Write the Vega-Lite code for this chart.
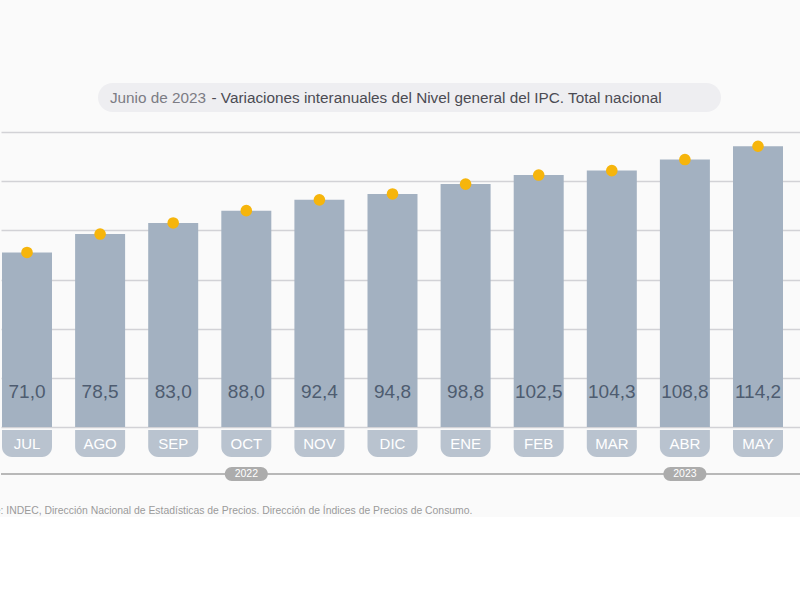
{
  "$schema": "https://vega.github.io/schema/vega-lite/v6.json",
  "background": "#fafafa",
  "padding": {"top": 83, "left": -32, "right": 0, "bottom": 0},
  "config": {
    "view": {"stroke": null},
    "font": "Liberation Sans",
    "locale": {"number": {"decimal": ",", "thousands": ".", "grouping": [3], "currency": ["$", ""]}}
  },
  "datasets": {
    "ipc": [
      {"mes": "JUL", "valor": 71.0},
      {"mes": "AGO", "valor": 78.5},
      {"mes": "SEP", "valor": 83.0},
      {"mes": "OCT", "valor": 88.0},
      {"mes": "NOV", "valor": 92.4},
      {"mes": "DIC", "valor": 94.8},
      {"mes": "ENE", "valor": 98.8},
      {"mes": "FEB", "valor": 102.5},
      {"mes": "MAR", "valor": 104.3},
      {"mes": "ABR", "valor": 108.8},
      {"mes": "MAY", "valor": 114.2}
    ],
    "anios": [
      {"anio": "2022", "mes": "OCT"},
      {"anio": "2023", "mes": "ABR"}
    ]
  },
  "title": {
    "text": "Fuente: INDEC, Dirección Nacional de Estadísticas de Precios. Dirección de Índices de Precios de Consumo.",
    "orient": "bottom",
    "anchor": "start",
    "fontSize": 10.4,
    "fontWeight": "normal",
    "color": "#9b9b9b",
    "dx": -32,
    "offset": 25
  },
  "spacing": 20,
  "vconcat": [
    {
      "spacing": 0,
      "hconcat": [
        {"width": 97, "height": 29, "data": {"values": []}, "mark": "text"},
        {
          "width": 623,
          "height": 29,
          "view": {"fill": "#eeeef1", "cornerRadius": 14.5},
          "data": {"values": [{"a": "Junio de 2023", "b": "- Variaciones interanuales del Nivel general del IPC. Total nacional"}]},
          "layer": [
            {
              "mark": {"type": "text", "align": "right", "baseline": "middle", "dx": -203.5, "fontSize": 15.3, "color": "#7c7c84"},
              "encoding": {"text": {"field": "a"}}
            },
            {
              "mark": {"type": "text", "align": "left", "baseline": "middle", "dx": -198, "fontSize": 15.3, "color": "#4b4b53"},
              "encoding": {"text": {"field": "b"}}
            }
          ]
        }
      ]
    },
    {
      "spacing": 3,
      "vconcat": [
        {
          "width": 800,
          "height": 295,
          "data": {"name": "ipc"},
          "encoding": {
            "x": {
              "field": "mes", "type": "nominal", "sort": null, "axis": null,
              "scale": {"domain": ["JUL","AGO","SEP","OCT","NOV","DIC","ENE","FEB","MAR","ABR","MAY"], "paddingInner": 0.316, "paddingOuter": 0.13, "align": 0.053}
            }
          },
          "layer": [
            {
              "mark": {"type": "bar", "color": "#a3b1c1"},
              "encoding": {
                "y": {
                  "field": "valor", "type": "quantitative",
                  "scale": {"domain": [0, 120], "nice": false},
                  "axis": {"values": [0,10,20,30,40,50,60,70,80,90,100,110,120], "labels": false, "ticks": false, "domain": false, "title": null, "grid": true, "gridColor": "#d2d2d6", "gridWidth": 1.5, "minExtent": 0, "maxExtent": 0}
                }
              }
            },
            {
              "mark": {"type": "circle", "size": 135, "color": "#f6b50c", "opacity": 1},
              "encoding": {"y": {"field": "valor", "type": "quantitative"}}
            },
            {
              "mark": {"type": "text", "fontSize": 19, "color": "#4e5c70", "baseline": "middle", "dy": -35},
              "encoding": {
                "y": {"datum": 0, "type": "quantitative"},
                "text": {"field": "valor", "type": "quantitative", "format": ".1f"}
              }
            }
          ]
        },
        {
          "spacing": 10,
          "vconcat": [
            {
              "width": 800,
              "height": 27,
              "data": {"name": "ipc"},
              "encoding": {
                "x": {
                  "field": "mes", "type": "nominal", "sort": null, "axis": null,
                  "scale": {"domain": ["JUL","AGO","SEP","OCT","NOV","DIC","ENE","FEB","MAR","ABR","MAY"], "paddingInner": 0.316, "paddingOuter": 0.13, "align": 0.053}
                }
              },
              "layer": [
                {"mark": {"type": "bar", "color": "#b9c3cf", "cornerRadiusBottomLeft": 10, "cornerRadiusBottomRight": 10}},
                {"mark": {"type": "text", "color": "#ffffff", "fontSize": 15, "baseline": "middle"}, "encoding": {"text": {"field": "mes"}}}
              ]
            },
            {
              "width": 800,
              "height": 14,
              "data": {"name": "anios"},
              "layer": [
                {
                  "mark": {"type": "rule", "color": "#b3b3b3", "strokeWidth": 1.5},
                  "encoding": {"y": {"datum": 0, "type": "quantitative", "scale": {"domain": [-1, 1]}, "axis": null}}
                },
                {
                  "mark": {"type": "bar", "width": 43, "color": "#acacac", "cornerRadius": 7},
                  "encoding": {
                    "x": {
                      "field": "mes", "type": "nominal", "axis": null,
                      "scale": {"domain": ["JUL","AGO","SEP","OCT","NOV","DIC","ENE","FEB","MAR","ABR","MAY"], "paddingInner": 0.316, "paddingOuter": 0.13, "align": 0.053}
                    }
                  }
                },
                {
                  "mark": {"type": "text", "color": "#ffffff", "fontSize": 10.5, "baseline": "middle"},
                  "encoding": {
                    "x": {"field": "mes", "type": "nominal", "axis": null},
                    "text": {"field": "anio"}
                  }
                }
              ]
            }
          ]
        }
      ]
    }
  ]
}
